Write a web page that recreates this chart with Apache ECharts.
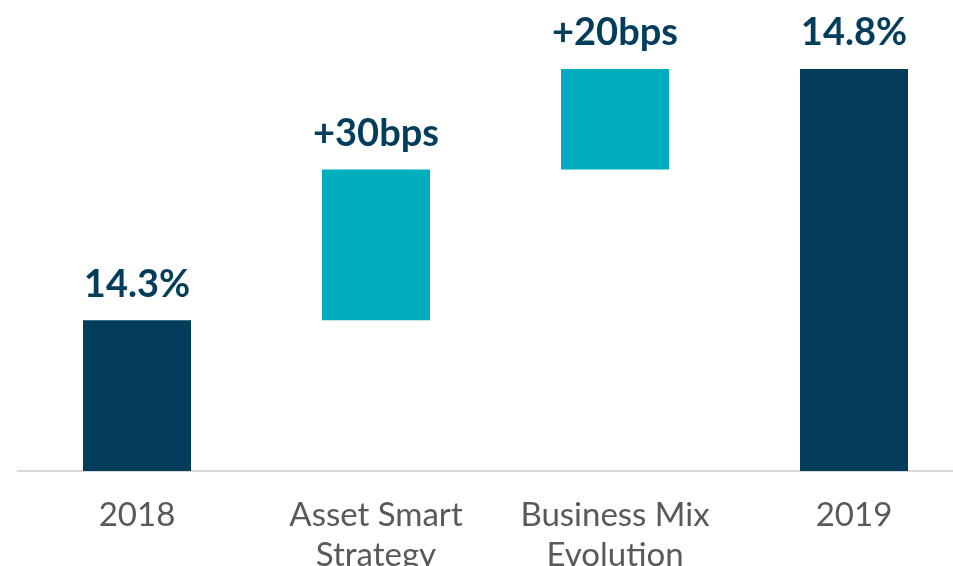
<!DOCTYPE html>
<html>
<head>
<meta charset="utf-8">
<script src="https://cdn.jsdelivr.net/npm/echarts@6/dist/echarts.min.js"></script>
<style>
  html, body { margin: 0; padding: 0; background: #fff; }
  #chart { width: 953px; height: 566px; }
</style>
</head>
<body>
<div id="chart"></div>
<script>
// margin walk 2018 -> 2019, in %
const categories = ['2018', 'Asset Smart\nStrategy', 'Business Mix\nEvolution', '2019']
const totals = [14.3, null, null, 14.8]
const steps = [null, 0.3, 0.2, null]
const valueLabels = ['14.3%', '+30bps', '+20bps', '14.8%']

// invisible base under each step bar
let running = 0
const base = []
const visible = []
categories.forEach((c, i) => {
  if (totals[i] != null) {
    base.push(0)
    visible.push(totals[i])
    running = totals[i]
  } else {
    base.push(running)
    visible.push(steps[i])
    running += steps[i]
  }
})

const chart = echarts.init(document.getElementById('chart'))
chart.setOption({
  animation: false,
  grid: { left: 17.5, right: -20.5, top: 69, bottom: 95, outerBoundsMode: 'none', containLabel: false },
  xAxis: {
    type: 'category',
    data: categories,
    axisLine: { lineStyle: { color: '#d9d9d9', width: 2 } },
    axisTick: { show: false },
    axisLabel: {
      interval: 0,
      hideOverlap: false,
      color: '#595959',
      fontFamily: 'Lato',
      fontSize: 33,
      lineHeight: 40,
      margin: 24
    }
  },
  yAxis: {
    type: 'value',
    min: 14,
    max: 14.8,
    show: false,
    splitLine: { show: false }
  },
  series: [
    {
      type: 'bar',
      stack: 'w',
      data: base,
      itemStyle: { color: 'transparent' },
      silent: true
    },
    {
      type: 'bar',
      stack: 'w',
      barWidth: 108,
      data: visible.map((v, i) => ({
        value: v,
        itemStyle: { color: totals[i] != null ? '#023d5b' : '#00adbf' }
      })),
      label: {
        show: true,
        position: 'top',
        distance: 17,
        formatter: p => valueLabels[p.dataIndex],
        color: '#023d5b',
        fontFamily: 'Lato',
        fontWeight: 'bold',
        fontSize: 38
      }
    }
  ]
})
</script>
</body>
</html>
